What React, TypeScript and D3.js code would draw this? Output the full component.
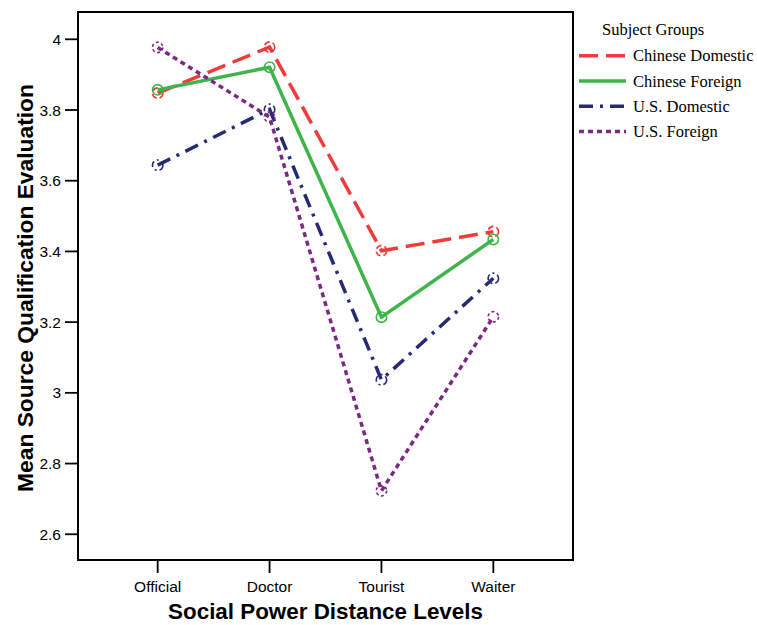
import React from "react";
import * as d3 from "d3";

const levels = ["Official", "Doctor", "Tourist", "Waiter"];
const groups = ["Chinese Domestic", "Chinese Foreign", "U.S. Domestic", "U.S. Foreign"];
const chineseDomestic = [3.848, 3.978, 3.402, 3.456];
const chineseForeign = [3.857, 3.921, 3.214, 3.434];
const usDomestic = [3.644, 3.802, 3.037, 3.324];
const usForeign = [3.977, 3.78, 2.723, 3.215];
const yTicks = [2.6, 2.8, 3, 3.2, 3.4, 3.6, 3.8, 4];

const seriesValues = [chineseDomestic, chineseForeign, usDomestic, usForeign];
const colors = ["#EF3B3B", "#3DB54A", "#262A73", "#7B2A83"];
const dashes = ["19 8", null, "14 7 3 7", "5 4"];
const circleDashes = ["6 3", null, "6 3 2 3", "3 2.5"];

const W = 757;
const H = 625;
const left = 78;
const right = 573;
const top = 12;
const bottom = 560;

export default function App() {
  const x = d3.scalePoint<string>().domain(levels).range([left, right]).padding(0.712);
  const y = d3.scaleLinear().domain([2.5272, 4.0772]).range([bottom, top]);
  const line = d3
    .line<number>()
    .x((_, i) => x(levels[i]) as number)
    .y((d) => y(d));

  const tickFont = "'Liberation Sans', Arial, sans-serif";
  const serif = "'Liberation Serif', 'Times New Roman', serif";

  return (
    <svg width={W} height={H} style={{ position: "absolute", left: 0, top: 0 }}>
      <rect x={0} y={0} width={W} height={H} fill="#fff" />
      {/* series lines */}
      {seriesValues.map((vals, s) => (
        <g key={groups[s]}>
          <path
            d={line(vals) as string}
            fill="none"
            stroke={colors[s]}
            strokeWidth={3.5}
            strokeDasharray={dashes[s] ?? undefined}
          />
          {vals.map((v, i) => (
            <circle
              key={i}
              cx={x(levels[i]) as number}
              cy={y(v)}
              r={5.2}
              fill="none"
              stroke={colors[s]}
              strokeWidth={1.6}
              strokeDasharray={circleDashes[s] ?? undefined}
            />
          ))}
        </g>
      ))}
      {/* plot frame */}
      <rect
        x={left}
        y={top}
        width={right - left}
        height={bottom - top}
        fill="none"
        stroke="#000"
        strokeWidth={2}
      />
      {/* y axis */}
      {yTicks.map((t) => (
        <g key={t}>
          <line x1={left - 13} x2={left} y1={y(t)} y2={y(t)} stroke="#000" strokeWidth={1.8} />
          <text
            x={left - 17}
            y={y(t)}
            dy="0.36em"
            textAnchor="end"
            fontFamily={tickFont}
            fontSize={15.5}
            fill="#000"
          >
            {d3.format("")(t)}
          </text>
        </g>
      ))}
      {/* x axis */}
      {levels.map((l) => (
        <g key={l}>
          <line
            x1={x(l) as number}
            x2={x(l) as number}
            y1={bottom}
            y2={bottom + 13}
            stroke="#000"
            strokeWidth={1.8}
          />
          <text
            x={x(l) as number}
            y={bottom + 32}
            textAnchor="middle"
            fontFamily={tickFont}
            fontSize={15.5}
            fill="#000"
          >
            {l}
          </text>
        </g>
      ))}
      <text
        x={(left + right) / 2}
        y={619}
        textAnchor="middle"
        fontFamily={tickFont}
        fontWeight="bold"
        fontSize={22.4}
        fill="#000"
      >
        Social Power Distance Levels
      </text>
      <text
        transform={`translate(33, ${(top + bottom) / 2 + 2}) rotate(-90)`}
        textAnchor="middle"
        fontFamily={tickFont}
        fontWeight="bold"
        fontSize={22.8}
        fill="#000"
      >
        Mean Source Qualification Evaluation
      </text>
      {/* legend */}
      <text x={602} y={35} fontFamily={serif} fontSize={16.5} fill="#000">
        Subject Groups
      </text>
      {groups.map((g, s) => {
        const ly = 55.7 + s * 25.3;
        return (
          <g key={g}>
            <line
              x1={579}
              x2={626}
              y1={ly}
              y2={ly}
              stroke={colors[s]}
              strokeWidth={3.5}
              strokeDasharray={dashes[s] ?? undefined}
            />
            <text x={633} y={ly} dy="0.35em" fontFamily={serif} fontSize={16.5} fill="#000">
              {g}
            </text>
          </g>
        );
      })}
    </svg>
  );
}
